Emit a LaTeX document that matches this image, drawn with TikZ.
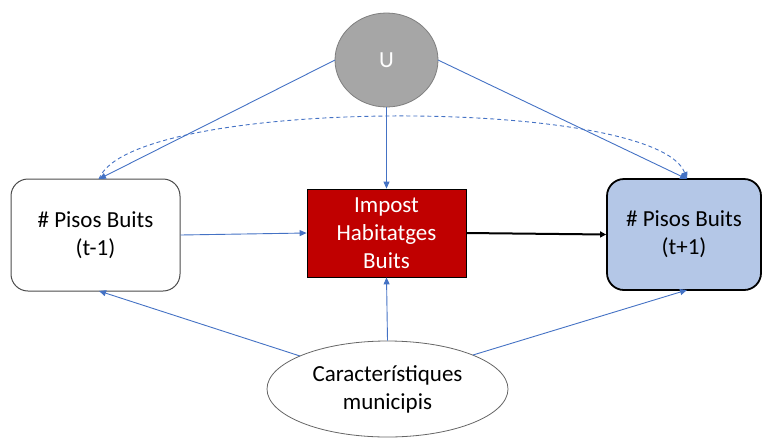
\documentclass[tikz,border=0pt]{standalone}
\usepackage{fontspec}
\setmainfont{Carlito}
\usetikzlibrary{arrows.meta,shapes.geometric}
\definecolor{lblue}{HTML}{4472C4}
\definecolor{ugray}{HTML}{A6A6A6}
\definecolor{ugrayb}{HTML}{7F7F7F}
\definecolor{impred}{HTML}{C00000}
\definecolor{boxblue}{HTML}{B4C7E7}
\tikzset{
  lbl/.style={font=\fontsize{23}{28}\selectfont, align=center, inner sep=0pt},
  bluearr/.style={draw=lblue, line width=0.9pt, -{Triangle[length=7pt,width=6pt]}},
  blackarr/.style={draw=black, line width=2pt, -{Triangle[length=6pt,width=6pt]}},
}
\begin{document}
\begin{tikzpicture}[x=1pt,y=-1pt]
\useasboundingbox (0,0) rectangle (763,437);
\node[ellipse, draw=ugrayb, fill=ugray, line width=0.8pt, minimum width=103pt, minimum height=94pt, inner sep=0pt, lbl, text=white] (U) at (386.5,60) {U};
\node[draw=black!70, fill=white, line width=1pt, rounded corners=17pt, minimum width=169pt, minimum height=112pt, lbl] (L) at (95.5,235) {\# Pisos Buits\\(t-1)};
\node[draw=black, fill=impred, line width=0.8pt, minimum width=159pt, minimum height=88pt, lbl, text=white] (C) at (386.5,233) {Impost\\Habitatges\\Buits};
\node[draw=black, fill=boxblue, line width=1.8pt, rounded corners=17pt, minimum width=154pt, minimum height=111pt, lbl] (R) at (684,234.5) {\# Pisos Buits\\(t+1)};
\node[ellipse, draw=black!60, fill=white, line width=0.8pt, minimum width=241pt, minimum height=96pt, inner sep=0pt, lbl] (B) at (387.5,389) {Característiques\\municipis};
\coordinate (Ltop) at (99,179);
\coordinate (Rtop) at (687,179);
\coordinate (Lbot) at (99,291);
\coordinate (Rbot) at (687,290);
\coordinate (Uleft) at (335,60);
\coordinate (Uright) at (438,60);
\coordinate (Bleft) at (300,356);
\coordinate (Bright) at (473,355);
\draw[bluearr] (Uleft) -- (Ltop);
\draw[bluearr] (Uright) -- (Rtop);
\draw[bluearr] (U.south) -- (C.north);
\draw[bluearr, dashed, dash pattern=on 4pt off 3pt] (Ltop) .. controls (130,96) and (656,96) .. (Rtop);
\draw[bluearr] (L.east) -- (C.west);
\draw[blackarr] (C.east) -- (R.west);
\draw[bluearr] (Bleft) -- (Lbot);
\draw[bluearr] (Bright) -- (Rbot);
\draw[bluearr] (B.north) -- (C.south);
\end{tikzpicture}
\end{document}
